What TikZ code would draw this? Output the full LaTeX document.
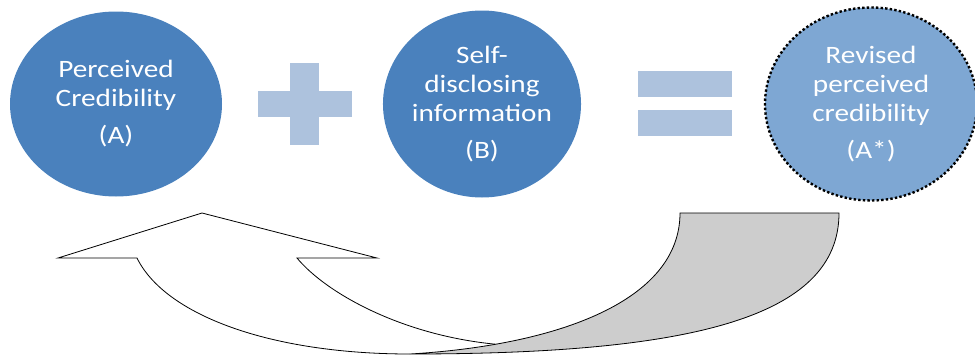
\documentclass[tikz,border=0pt]{standalone}
\usepackage{fontspec}
\setmainfont{Carlito}[FakeStretch=1.17]
\usetikzlibrary{shapes.geometric,positioning}
\definecolor{darkblue}{RGB}{74,129,189}
\definecolor{lightblue}{RGB}{126,167,211}
\definecolor{paleblue}{RGB}{173,194,221}
\definecolor{foldgray}{RGB}{205,205,205}

\begin{document}
\begin{tikzpicture}[x=1pt,y=-1pt]
		\useasboundingbox (0,0) rectangle (975,354);

		\begin{scope}[every node/.style={ellipse,inner sep=0pt,align=center,text=white,font=\fontsize{25}{29}\selectfont}]
			\node[fill=darkblue,minimum width=212pt,minimum height=185pt] (A) at (116,104) {Perceived\\Credibility\\[8pt](A)};
			\node[fill=darkblue,minimum width=190pt,minimum height=187pt] (B) at (482,104) {Self-\\disclosing\\information\\[8pt](B)};
			\node[fill=lightblue,draw=black,line width=2.4pt,dash pattern=on 2.4pt off 2.2pt,minimum width=212pt,minimum height=193pt] (R) at (871,104) {Revised\\perceived\\credibility\\[8pt](A*)};
		\end{scope}

		% plus and equals
		\fill[paleblue] (258,91) rectangle (352,117);
		\fill[paleblue] (290,63) rectangle (319,145);
		\fill[paleblue] (638,71) rectangle (732,97);
		\fill[paleblue] (638,110) rectangle (732,136);

		% curved arrow back to A
		\coordinate (tip) at (202,213);
		\coordinate (barbL) at (58,258);
		\coordinate (barbR) at (377,258);
		\coordinate (shaftL) at (137,258);
		\coordinate (shaftR) at (297,258);
		\coordinate (foldL) at (680,213);
		\coordinate (foldR) at (839,213);
		\coordinate (bottom) at (410,354);
		\path (foldL) .. controls (680,300) and (560,345) .. (bottom) coordinate[pos=0.8] (X);

		\begin{scope}[line width=0.8pt]
			\draw (bottom) .. controls (270,354) and (165,315) .. (shaftL) -- (barbL) -- (tip) -- (barbR) -- (shaftR) .. controls (325,292) and (400,335) .. (X);
			\draw[fill=foldgray] (foldL) -- (foldR) .. controls (839,318) and (690,354) .. (bottom) .. controls (560,345) and (680,300) .. (foldL) -- cycle;
		\end{scope}
	\end{tikzpicture}
\end{document}
